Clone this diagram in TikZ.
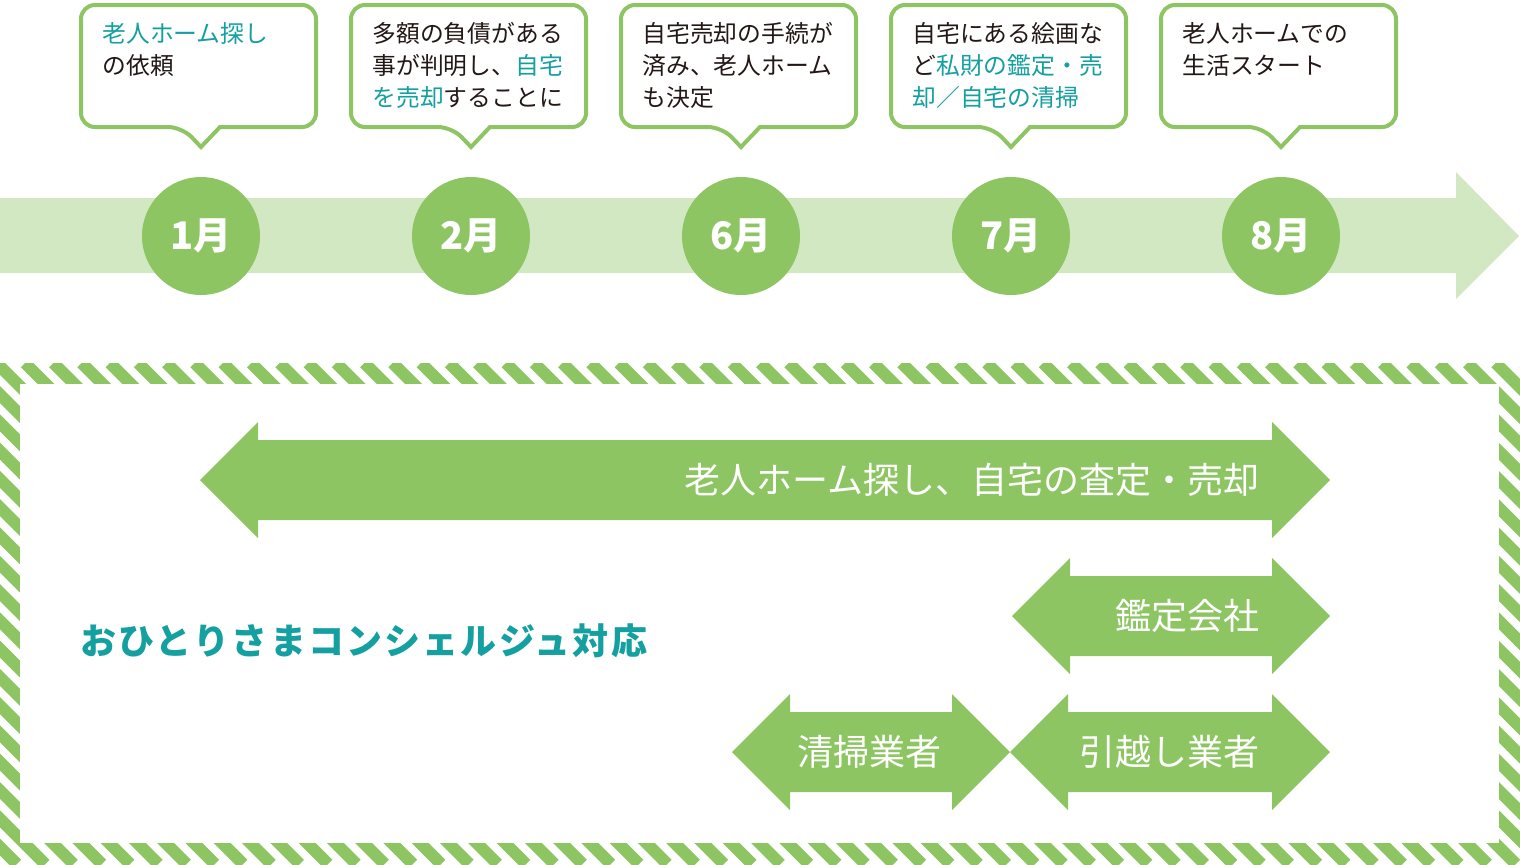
\documentclass[tikz,border=0pt]{standalone}
\usepackage{fontspec}
\setmainfont{Noto Sans CJK JP}
\definecolor{leaf}{RGB}{141,197,99}
\definecolor{paleleaf}{RGB}{210,232,194}
\definecolor{sea}{RGB}{20,160,160}
\definecolor{ink}{RGB}{35,24,21}

% speech bubble above a month, #1 = x of its pointer
\newcommand{\bubble}[1]{%
  \draw[bubble] ({#1+19},127) [rounded corners=7pt] -- ({#1+115},127) -- ({#1+115},5)
    -- ({#1-120},5) -- ({#1-120},127) -- ({#1-19},127) [sharp corners] -- ({#1},147) -- cycle;}
% arrow with two heads, #1 = left tip, #2 = right tip, #3 = middle
\newcommand{\twoway}[3]{%
  \fill[leaf] (#1,#3) -- ({#1+58},{#3-58}) -- ({#1+58},{#3-40}) -- ({#2-58},{#3-40})
    -- ({#2-58},{#3-58}) -- (#2,#3) -- ({#2-58},{#3+58}) -- ({#2-58},{#3+40})
    -- ({#1+58},{#3+40}) -- ({#1+58},{#3+58}) -- cycle;}

\begin{document}
\begin{tikzpicture}[
    x=0.5pt, y=-0.5pt,
    every node/.style={inner sep=0pt},
    month/.style={circle, fill=leaf, minimum size=59pt, text=white,
      font=\fontsize{19}{19}\selectfont\bfseries},
    bubble/.style={draw=leaf, line width=2pt, fill=white},
    note/.style={anchor=north west, align=left, text=ink,
      font=\normalfont\fontsize{11.9}{16}\selectfont},
    bandtext/.style={text=white, font=\normalfont\fontsize{18}{18}\selectfont}
]
\useasboundingbox (0,0) rectangle (1520,864);

% Timeline
\fill[paleleaf] (0,198) -- (1456,198) -- (1456,172) -- (1519,236) -- (1456,299)
  -- (1456,273) -- (0,273) -- cycle;
\foreach \m [count=\i, evaluate=\i as \cx using 201+270*(\i-1)] in {1,2,6,7,8}
  \node[month] (m\i) at (\cx,236) {\m 月};

% Bubbles
\foreach \i [evaluate=\i as \cx using 201+270*(\i-1)] in {1,...,5}
  {\bubble{\cx}}
\node[note] (note1) at (102,22) {\textcolor{sea}{老人ホーム探し}\\の依頼};
\node[note] (note2) at (372,22) {多額の負債がある\\事が判明し、\textcolor{sea}{自宅}\\\textcolor{sea}{を売却}することに};
\node[note] (note3) at (642,22) {自宅売却の手続が\\済み、老人ホーム\\も決定};
\node[note] (note4) at (912,22) {自宅にある絵画な\\ど\textcolor{sea}{私財の鑑定・売}\\\textcolor{sea}{却／自宅の清掃}};
\node[note] (note5) at (1182,22) {老人ホームでの\\生活スタート};

% Striped frame
\begin{scope}
  \clip (0,363) rectangle (1520,864);
  \foreach \k in {0,...,72}
    \draw[leaf, line width=6pt] ({25+28.28*(\k-19)},363) -- ++(501,501);
\end{scope}
\fill[white] (20,384) rectangle (1499,843);

% Arrows
\twoway{200}{1330}{480}
\twoway{1012}{1330}{616}
\twoway{732}{1010}{752}
\twoway{1010}{1330}{752}
\node[bandtext, anchor=east] (search) at (1260,480) {老人ホーム探し、自宅の査定・売却};
\node[bandtext, anchor=east] (appraiser) at (1260,616) {鑑定会社};
\node[bandtext] (cleaner) at (869,752) {清掃業者};
\node[bandtext, anchor=east] (mover) at (1260,752) {引越し業者};
\node[anchor=west, text=sea, font=\fontsize{18}{18}\selectfont\bfseries\addfontfeatures{LetterSpace=6}]
  (concierge) at (80,641) {おひとりさまコンシェルジュ対応};

\end{tikzpicture}
\end{document}
